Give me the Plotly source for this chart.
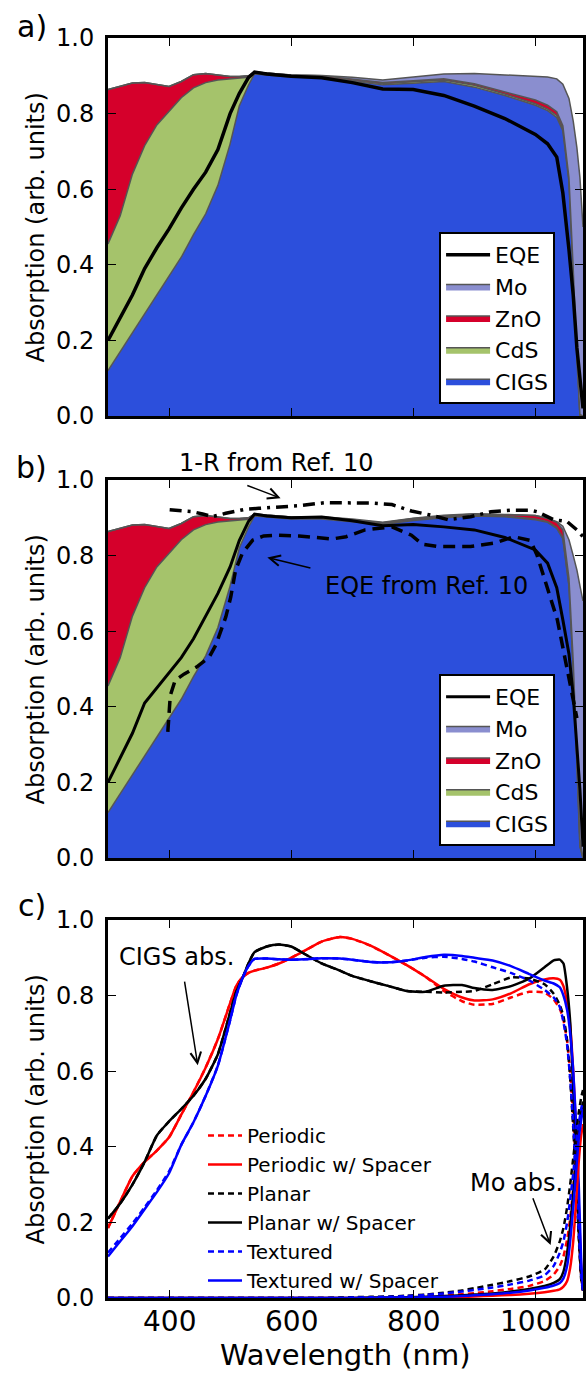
import plotly.graph_objects as go

FONT = "DejaVu Sans"

# ---------------- panels a) and b): stacked layer absorption (boundaries) ----------------
wl_ab = [300, 320, 340, 360, 380, 400, 420, 440, 460, 480, 500, 515, 530, 540, 560, 600,
         650, 700, 750, 800, 850, 900, 950, 1000, 1020, 1035, 1045, 1055, 1062, 1068, 1073, 1078]

cigs_a = [0.12, 0.17, 0.22, 0.27, 0.32, 0.37, 0.42, 0.48, 0.535, 0.61, 0.72, 0.82, 0.875, 0.905, 0.902, 0.897,
          0.895, 0.885, 0.876, 0.88, 0.885, 0.87, 0.848, 0.822, 0.808, 0.79, 0.755, 0.62, 0.38, 0.14, 0.0, 0.0]
cds_a = [0.455, 0.53, 0.64, 0.715, 0.77, 0.805, 0.842, 0.868, 0.882, 0.889, 0.891, 0.893, 0.896, 0.907, 0.904, 0.899,
         0.897, 0.888, 0.879, 0.884, 0.889, 0.875, 0.852, 0.826, 0.812, 0.795, 0.76, 0.625, 0.385, 0.145, 0.003, 0.0]
zno_a = [0.864, 0.872, 0.881, 0.882, 0.876, 0.872, 0.885, 0.903, 0.906, 0.901, 0.898, 0.898, 0.9, 0.91, 0.907, 0.902,
         0.9, 0.891, 0.882, 0.887, 0.892, 0.879, 0.858, 0.836, 0.822, 0.805, 0.768, 0.63, 0.388, 0.147, 0.004, 0.0]
mo_a = [0.864, 0.872, 0.881, 0.882, 0.876, 0.872, 0.885, 0.903, 0.906, 0.901, 0.898, 0.898, 0.9, 0.91, 0.907, 0.902,
        0.901, 0.896, 0.889, 0.897, 0.905, 0.906, 0.903, 0.899, 0.897, 0.892, 0.878, 0.84, 0.78, 0.71, 0.63, 0.5]
eqe_a = [0.2, 0.26, 0.32, 0.39, 0.445, 0.495, 0.55, 0.6, 0.645, 0.705, 0.8, 0.853, 0.895, 0.91, 0.905, 0.899,
         0.895, 0.882, 0.865, 0.864, 0.848, 0.82, 0.787, 0.745, 0.72, 0.685, 0.59, 0.44, 0.32, 0.18, 0.09, 0.02]

cigs_b = [0.12, 0.17, 0.22, 0.27, 0.32, 0.37, 0.42, 0.48, 0.535, 0.61, 0.72, 0.82, 0.875, 0.905, 0.902, 0.897,
          0.897, 0.89, 0.882, 0.893, 0.9, 0.905, 0.903, 0.895, 0.888, 0.872, 0.845, 0.72, 0.5, 0.25, 0.03, 0.0]
cds_b = [0.455, 0.53, 0.64, 0.715, 0.77, 0.805, 0.842, 0.868, 0.882, 0.889, 0.891, 0.893, 0.896, 0.907, 0.904, 0.899,
         0.899, 0.892, 0.884, 0.895, 0.902, 0.907, 0.905, 0.897, 0.89, 0.874, 0.847, 0.722, 0.502, 0.252, 0.032, 0.0]
zno_b = [0.864, 0.872, 0.881, 0.882, 0.876, 0.872, 0.885, 0.903, 0.906, 0.901, 0.898, 0.898, 0.9, 0.91, 0.907, 0.902,
         0.902, 0.895, 0.887, 0.898, 0.905, 0.91, 0.909, 0.906, 0.898, 0.888, 0.868, 0.74, 0.52, 0.27, 0.05, 0.0]
mo_b = [0.864, 0.872, 0.881, 0.882, 0.876, 0.872, 0.885, 0.903, 0.906, 0.901, 0.898, 0.898, 0.9, 0.91, 0.907, 0.902,
        0.903, 0.897, 0.888, 0.899, 0.907, 0.911, 0.909, 0.906, 0.899, 0.89, 0.878, 0.842, 0.8, 0.762, 0.72, 0.68]
eqe_b = [0.2, 0.265, 0.33, 0.41, 0.45, 0.49, 0.53, 0.58, 0.64, 0.7, 0.77, 0.84, 0.89, 0.91, 0.905, 0.9,
         0.902, 0.892, 0.879, 0.882, 0.876, 0.868, 0.848, 0.815, 0.78, 0.715, 0.63, 0.54, 0.43, 0.3, 0.18, 0.03]

wl_r10 = [398, 402, 410, 425, 445, 466, 477, 493, 501, 509, 520, 537, 555, 580, 613, 667,
          690, 721, 765, 797, 815, 840, 894, 933, 965, 992, 1003, 1019, 1036, 1052, 1063, 1068]
eqe_r10 = [0.334, 0.43, 0.47, 0.487, 0.505, 0.532, 0.565, 0.638, 0.69, 0.762, 0.806, 0.841, 0.852, 0.854, 0.852, 0.844,
           0.85, 0.868, 0.876, 0.854, 0.83, 0.824, 0.824, 0.833, 0.85, 0.84, 0.8, 0.718, 0.63, 0.5, 0.41, 0.37]

wl_1r = [401, 420, 439, 455, 471, 493, 526, 547, 613, 655, 700, 732, 765, 797, 829, 857,
         894, 927, 960, 992, 1003, 1030, 1052, 1068, 1078]
one_minus_r = [0.921, 0.918, 0.916, 0.91, 0.903, 0.912, 0.923, 0.925, 0.932, 0.94, 0.939, 0.939, 0.935, 0.918, 0.907, 0.895,
               0.903, 0.916, 0.92, 0.92, 0.916, 0.895, 0.89, 0.868, 0.85]

layer_names = ["CIGS", "CdS", "ZnO", "Mo"]
layer_colors = ["#2c4fdc", "#a5c36b", "#d5002b", "#8a8ecf"]

# ---------------- panel c) ----------------
wl_c = [300, 320, 340, 360, 380, 400, 420, 440, 460, 480,
        500, 510, 520, 530, 540, 560, 580, 600, 620, 650,
        680, 700, 730, 760, 790, 820, 850, 880, 900, 930,
        960, 990, 1015, 1030, 1040, 1046, 1052, 1057, 1062, 1067,
        1071, 1075, 1078]

cigs_periodic = [0.185, 0.255, 0.322, 0.36, 0.39, 0.425, 0.485, 0.545, 0.61, 0.685,
                 0.78, 0.825, 0.848, 0.86, 0.866, 0.874, 0.885, 0.9, 0.917, 0.943,
                 0.955, 0.95, 0.932, 0.907, 0.88, 0.85, 0.812, 0.785, 0.776, 0.778,
                 0.795, 0.81, 0.808, 0.79, 0.765, 0.735, 0.68, 0.6, 0.48, 0.33,
                 0.18, 0.06, 0.02]
cigs_periodic_sp = [0.185, 0.255, 0.322, 0.36, 0.39, 0.425, 0.485, 0.545, 0.61, 0.685,
                    0.78, 0.825, 0.848, 0.86, 0.866, 0.874, 0.885, 0.9, 0.917, 0.943,
                    0.955, 0.95, 0.932, 0.907, 0.88, 0.85, 0.818, 0.795, 0.787, 0.79,
                    0.806, 0.83, 0.843, 0.846, 0.842, 0.825, 0.78, 0.72, 0.6, 0.43,
                    0.25, 0.08, 0.02]
cigs_planar = [0.21, 0.25, 0.3, 0.36, 0.43, 0.467, 0.5, 0.535, 0.58, 0.645,
               0.755, 0.81, 0.845, 0.885, 0.915, 0.93, 0.935, 0.93, 0.912, 0.885,
               0.866, 0.852, 0.838, 0.825, 0.812, 0.81, 0.808, 0.81, 0.812, 0.83,
               0.848, 0.845, 0.83, 0.805, 0.775, 0.745, 0.68, 0.58, 0.45, 0.3,
               0.16, 0.05, 0.02]
cigs_planar_sp = [0.21, 0.25, 0.3, 0.36, 0.43, 0.467, 0.5, 0.535, 0.58, 0.645,
                  0.755, 0.81, 0.845, 0.885, 0.915, 0.93, 0.935, 0.93, 0.912, 0.885,
                  0.866, 0.852, 0.838, 0.825, 0.812, 0.81, 0.826, 0.828, 0.82, 0.815,
                  0.825, 0.845, 0.875, 0.893, 0.895, 0.885, 0.82, 0.73, 0.55, 0.35,
                  0.18, 0.06, 0.02]
cigs_textured = [0.12, 0.158, 0.197, 0.24, 0.285, 0.335, 0.405, 0.465, 0.535, 0.615,
                 0.735, 0.8, 0.845, 0.878, 0.897, 0.898, 0.896, 0.895, 0.896, 0.899,
                 0.898, 0.895, 0.889, 0.888, 0.893, 0.9, 0.903, 0.897, 0.89, 0.875,
                 0.86, 0.84, 0.815, 0.795, 0.77, 0.73, 0.67, 0.58, 0.46, 0.32,
                 0.18, 0.06, 0.02]
cigs_textured_sp = [0.11, 0.15, 0.19, 0.235, 0.28, 0.33, 0.405, 0.465, 0.535, 0.615,
                    0.735, 0.8, 0.845, 0.878, 0.897, 0.898, 0.896, 0.895, 0.896, 0.899,
                    0.898, 0.895, 0.889, 0.888, 0.893, 0.902, 0.908, 0.905, 0.9, 0.893,
                    0.878, 0.857, 0.84, 0.832, 0.822, 0.8, 0.762, 0.7, 0.6, 0.45,
                    0.3, 0.1, 0.02]

mo_periodic = [0.0, 0.0, 0.0, 0.0, 0.0, 0.0, 0.0, 0.0, 0.0, 0.0,
               0.0, 0.0, 0.0, 0.0, 0.0, 0.0, 0.0, 0.0, 0.0, 0.0,
               0.0, 0.0, 0.001, 0.002, 0.003, 0.005, 0.007, 0.01, 0.013, 0.018,
               0.024, 0.032, 0.045, 0.062, 0.085, 0.11, 0.155, 0.21, 0.29, 0.38,
               0.44, 0.48, 0.5]
mo_periodic_sp = [0.0, 0.0, 0.0, 0.0, 0.0, 0.0, 0.0, 0.0, 0.0, 0.0,
                  0.0, 0.0, 0.0, 0.0, 0.0, 0.0, 0.0, 0.0, 0.0, 0.0,
                  0.0, 0.0, 0.0, 0.0, 0.001, 0.001, 0.002, 0.003, 0.004, 0.006,
                  0.008, 0.011, 0.015, 0.019, 0.023, 0.03, 0.045, 0.08, 0.15, 0.26,
                  0.36, 0.43, 0.46]
mo_planar = [0.0, 0.0, 0.0, 0.0, 0.0, 0.0, 0.0, 0.0, 0.0, 0.0,
             0.0, 0.0, 0.0, 0.0, 0.0, 0.0, 0.0, 0.0, 0.0, 0.0,
             0.001, 0.002, 0.003, 0.004, 0.006, 0.009, 0.014, 0.02, 0.026, 0.035,
             0.045, 0.057, 0.075, 0.11, 0.15, 0.185, 0.24, 0.3, 0.37, 0.44,
             0.49, 0.53, 0.55]
mo_planar_sp = [0.0, 0.0, 0.0, 0.0, 0.0, 0.0, 0.0, 0.0, 0.0, 0.0,
                0.0, 0.0, 0.0, 0.0, 0.0, 0.0, 0.0, 0.0, 0.0, 0.0,
                0.0, 0.0, 0.001, 0.001, 0.002, 0.003, 0.005, 0.007, 0.009, 0.012,
                0.017, 0.024, 0.032, 0.04, 0.05, 0.07, 0.12, 0.19, 0.28, 0.38,
                0.44, 0.49, 0.52]
mo_textured = [0.0, 0.0, 0.0, 0.0, 0.0, 0.0, 0.0, 0.0, 0.0, 0.0,
               0.0, 0.0, 0.0, 0.0, 0.0, 0.0, 0.0, 0.0, 0.0, 0.0,
               0.0, 0.001, 0.002, 0.003, 0.005, 0.008, 0.012, 0.017, 0.021, 0.028,
               0.036, 0.046, 0.06, 0.085, 0.12, 0.15, 0.2, 0.26, 0.33, 0.41,
               0.46, 0.5, 0.52]
mo_textured_sp = [0.0, 0.0, 0.0, 0.0, 0.0, 0.0, 0.0, 0.0, 0.0, 0.0,
                  0.0, 0.0, 0.0, 0.0, 0.0, 0.0, 0.0, 0.0, 0.0, 0.0,
                  0.0, 0.0, 0.0, 0.001, 0.001, 0.002, 0.003, 0.005, 0.007, 0.01,
                  0.014, 0.02, 0.027, 0.033, 0.04, 0.052, 0.085, 0.15, 0.24, 0.34,
                  0.42, 0.47, 0.5]

c_series = [
    ("Periodic", "red", "6px,4px", cigs_periodic, mo_periodic),
    ("Periodic w/ Spacer", "red", "solid", cigs_periodic_sp, mo_periodic_sp),
    ("Planar", "black", "6px,4px", cigs_planar, mo_planar),
    ("Planar w/ Spacer", "black", "solid", cigs_planar_sp, mo_planar_sp),
    ("Textured", "blue", "6px,4px", cigs_textured, mo_textured),
    ("Textured w/ Spacer", "blue", "solid", cigs_textured_sp, mo_textured_sp),
]

x_ticks = [400, 600, 800, 1000]
x_tick_labels = ["400", "600", "800", "1000"]
y_ticks = [0.0, 0.2, 0.4, 0.6, 0.8, 1.0]
x_range = [300, 1078]

fig = go.Figure()


def add_stack(xa, ya, legend, bounds, eqe, eqe_width):
    for i, (name, col, top) in enumerate(zip(layer_names, layer_colors, bounds)):
        fig.add_trace(go.Scatter(
            x=wl_ab, y=top, name=name, mode="lines",
            line=dict(color="#555555", width=1.5),
            fill="tozeroy" if i == 0 else "tonexty", fillcolor=col,
            xaxis=xa, yaxis=ya, legend=legend, hoverinfo="skip"))
    fig.add_trace(go.Scatter(
        x=wl_ab, y=eqe, name="EQE", mode="lines",
        line=dict(color="black", width=eqe_width),
        xaxis=xa, yaxis=ya, legend=legend))


add_stack("x", "y", "legend", [cigs_a, cds_a, zno_a, mo_a], eqe_a, 3.5)
add_stack("x2", "y2", "legend2", [cigs_b, cds_b, zno_b, mo_b], eqe_b, 3)

fig.add_trace(go.Scatter(x=wl_r10, y=eqe_r10, mode="lines", showlegend=False,
                         line=dict(color="black", width=3.5, dash="12px,7px"),
                         xaxis="x2", yaxis="y2"))
fig.add_trace(go.Scatter(x=wl_1r, y=one_minus_r, mode="lines", showlegend=False,
                         line=dict(color="black", width=3.5, dash="12px,6px,3px,6px"),
                         xaxis="x2", yaxis="y2"))

for name, col, dash, cigs, mo in c_series:
    fig.add_trace(go.Scatter(x=wl_c, y=cigs, name=name, mode="lines",
                             line=dict(color=col, width=2.5, dash=dash, shape="spline", smoothing=0.5),
                             xaxis="x3", yaxis="y3", legend="legend3", legendgroup=name))
for name, col, dash, cigs, mo in c_series:
    fig.add_trace(go.Scatter(x=wl_c, y=mo, name=name, mode="lines", showlegend=False,
                             line=dict(color=col, width=2.5, dash=dash, shape="spline", smoothing=0.5),
                             xaxis="x3", yaxis="y3", legendgroup=name))

ax_common = dict(showline=True, linecolor="black", linewidth=3, mirror="ticks",
                 ticks="inside", ticklen=8, tickwidth=1.2, tickcolor="black",
                 showgrid=False, zeroline=False, fixedrange=True)
tick_font = dict(family=FONT, size=24, color="black")

domains = [[0.7, 1.0], [0.3492, 0.6492], [0.0, 0.3]]
for k, dom in enumerate(domains, start=1):
    sx = "" if k == 1 else str(k)
    fig.update_layout(**{
        "xaxis" + sx: dict(ax_common, domain=[0, 1], range=x_range, tickvals=x_ticks,
                           showticklabels=False, anchor="y" + sx),
        "yaxis" + sx: dict(ax_common, domain=dom, range=[0, 1], tickvals=y_ticks,
                           tickformat=".1f", anchor="x" + sx, tickfont=tick_font,
                           ticklabelstandoff=6),
    })

legend_common = dict(font=dict(family=FONT, size=22, color="black"), bgcolor="white",
                     bordercolor="black", borderwidth=2, xanchor="left", yanchor="bottom",
                     traceorder="reversed", itemclick=False, itemwidth=44)
fig.update_layout(
    legend=dict(legend_common, x=0.697, y=0.7095),
    legend2=dict(legend_common, x=0.697, y=0.3587),
    legend3=dict(font=dict(family=FONT, size=20, color="black"), bgcolor="rgba(0,0,0,0)",
                 borderwidth=0, x=0.2, y=0.0714, xanchor="left", yanchor="middle",
                 traceorder="normal", itemclick=False, itemwidth=34),
)

ann = []
# x tick labels of panel c (placed on the wavelength axis)
for v, lab in zip(x_ticks, x_tick_labels):
    ann.append(dict(text=lab, xref="x3", yref="paper", x=v, y=-0.0183, showarrow=False,
                    xanchor="center", yanchor="middle", font=dict(family=FONT, size=28, color="black")))
# y-axis titles
for yc in [0.85, 0.4992, 0.15]:
    ann.append(dict(text="Absorption (arb. units)", xref="paper", yref="paper", x=-0.1506, y=yc,
                    textangle=-90, showarrow=False, xanchor="center", yanchor="middle",
                    font=dict(family=FONT, size=24, color="black")))
# x-axis title
ann.append(dict(text="Wavelength (nm)", xref="paper", yref="paper", x=0.5, y=-0.0452,
                showarrow=False, xanchor="center", yanchor="middle",
                font=dict(family=FONT, size=29, color="black")))
# panel letters
for lab, yc in [("a)", 1.0095), ("b)", 0.6595), ("c)", 0.3112)]:
    ann.append(dict(text=lab, xref="paper", yref="paper", x=-0.161, y=yc, showarrow=False,
                    xanchor="center", yanchor="middle", font=dict(family=FONT, size=30, color="black")))

afont = dict(family=FONT, size=24, color="black")
# panel b annotations
ann.append(dict(text="1-R from Ref. 10", xref="paper", yref="paper", x=0.355, y=0.6627, showarrow=False,
                xanchor="center", yanchor="middle", font=afont))
ann.append(dict(text="", xref="x2", yref="y2", x=582.7, y=0.952, axref="x2", ayref="y2",
                ax=525.7, ay=0.987, showarrow=True, arrowhead=5, arrowsize=1.4, arrowwidth=1.5,
                arrowcolor="black"))
ann.append(dict(text="EQE from Ref. 10", xref="x2", yref="y2", x=821, y=0.72, showarrow=False,
                xanchor="center", yanchor="middle", font=afont))
ann.append(dict(text="", xref="x2", yref="y2", x=561, y=0.795, axref="x2", ayref="y2",
                ax=634, ay=0.766, showarrow=True, arrowhead=5, arrowsize=1.4, arrowwidth=1.5,
                arrowcolor="black"))
# panel c annotations
ann.append(dict(text="CIGS abs.", xref="x3", yref="y3", x=412, y=0.903, showarrow=False,
                xanchor="center", yanchor="middle", font=afont))
ann.append(dict(text="", xref="x3", yref="y3", x=447, y=0.616, axref="x3", ayref="y3",
                ax=425, ay=0.841, showarrow=True, arrowhead=5, arrowsize=1.4, arrowwidth=1.5,
                arrowcolor="black"))
ann.append(dict(text="Mo abs.", xref="x3", yref="y3", x=969, y=0.305, showarrow=False,
                xanchor="center", yanchor="middle", font=afont))
ann.append(dict(text="", xref="x3", yref="y3", x=1025, y=0.14, axref="x3", ayref="y3",
                ax=995, ay=0.268, showarrow=True, arrowhead=5, arrowsize=1.4, arrowwidth=1.5,
                arrowcolor="black"))

fig.update_layout(
    width=588, height=1375,
    margin=dict(l=108, r=2, t=38, b=77),
    paper_bgcolor="white", plot_bgcolor="white",
    font=dict(family=FONT, color="black"),
    annotations=ann,
)

fig.write_html("out.html", config={"displayModeBar": False})
